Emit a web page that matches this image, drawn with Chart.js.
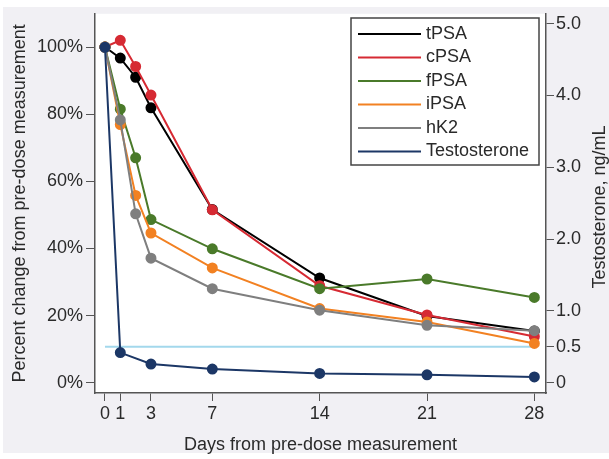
<!DOCTYPE html>
<html>
<head>
<meta charset="utf-8">
<script src="https://cdn.jsdelivr.net/npm/chart.js@4"></script>
<style>
  body { margin: 0; background: #fff; }
  #c { display: block; }
</style>
</head>
<body>
<canvas id="c" width="609" height="459"></canvas>
<script>
// data
const days = [0, 1, 2, 3, 7, 14, 21, 28];
const tPSA = [100, 96.7, 91.0, 81.9, 51.6, 31.2, 19.9, 15.4];
const cPSA = [100, 102.0, 94.2, 85.7, 51.5, 28.9, 20.2, 13.8];
const fPSA = [100, 81.5, 67.0, 48.6, 39.9, 28.0, 30.9, 25.4];
const iPSA = [100, 76.9, 55.8, 44.6, 34.2, 22.1, 18.1, 11.7];
const hK2 = [100, 78.3, 50.3, 37.1, 28.0, 21.6, 17.1, 15.5];
const testoDays = [0, 1, 3, 7, 14, 21, 28];
const testosterone = [4.67, 0.42, 0.26, 0.19, 0.13, 0.11, 0.08]; // ng/mL
const castrateLevel = 0.5;

const xTicks = [0, 1, 3, 7, 14, 21, 28];
const pctTicks = [0, 20, 40, 60, 80, 100];
const testoTicks = [0, 0.5, 1, 2, 3, 4, 5];

// left axis range, right axis follows it (100% = baseline testosterone)
const pctMin = -3.06, pctMax = 109.9;
const testoPerPct = 4.674 / 100;

const FONT = "'Liberation Sans', Arial, sans-serif";
const TXT = '#2a2a2a';
const AX = '#555';

function pts(xs, ys) {
    return xs.map((x, i) => ({ x: x, y: ys[i] }));
}

const series = [
    { label: 'tPSA', data: tPSA, color: '#000000', order: 5 },
    { label: 'cPSA', data: cPSA, color: '#d62a33', order: 4 },
    { label: 'fPSA', data: fPSA, color: '#4a7a2a', order: 3 },
    { label: 'iPSA', data: iPSA, color: '#f28122', order: 2 },
    { label: 'hK2', data: hK2, color: '#7f7f7f', order: 1 },
];

const datasets = series.map(s => ({
    label: s.label,
    data: pts(days, s.data),
    borderColor: s.color,
    backgroundColor: s.color,
    pointBackgroundColor: s.color,
    pointBorderColor: s.color,
    borderWidth: 2,
    pointRadius: 4.5,
    order: s.order,
    yAxisID: 'y',
    inLegend: true
}));
datasets.push({
    label: 'Testosterone',
    data: pts(testoDays, testosterone),
    borderColor: '#1c3766',
    backgroundColor: '#1c3766',
    pointBackgroundColor: '#1c3766',
    pointBorderColor: '#1c3766',
    borderWidth: 2,
    pointRadius: 4.5,
    order: 0,
    yAxisID: 'y1',
    inLegend: true
});
datasets.push({
    label: 'castrate',
    data: pts([0, 28], [castrateLevel, castrateLevel]),
    borderColor: '#a3d8ec',
    borderWidth: 2,
    pointRadius: 0,
    order: 9,
    yAxisID: 'y1',
    inLegend: false
});

// page background + white plot area
const bgPlugin = {
    id: 'bg',
    beforeDraw(chart) {
        const ctx = chart.ctx, a = chart.chartArea;
        ctx.save();
        ctx.fillStyle = '#ffffff';
        ctx.fillRect(0, 0, chart.width, chart.height);
        ctx.fillStyle = '#f1f0f4';
        ctx.fillRect(3, 7, chart.width - 3, chart.height - 13);
        ctx.fillStyle = '#ffffff';
        ctx.fillRect(a.left, a.top, a.right - a.left, a.bottom - a.top);
        ctx.restore();
    }
};

// boxed legend inside the plot, top right; right axis title reading upwards
const legendPlugin = {
    id: 'boxLegend',
    afterDraw(chart) {
        const ctx = chart.ctx;
        const items = chart.data.datasets.filter(d => d.inLegend);
        const bx = 351, by = 18, bw = 188, bh = 147;
        ctx.save();
        ctx.fillStyle = '#ffffff';
        ctx.fillRect(bx, by, bw, bh);
        ctx.strokeStyle = '#444';
        ctx.lineWidth = 1.5;
        ctx.strokeRect(bx, by, bw, bh);
        ctx.font = '18px ' + FONT;
        ctx.textBaseline = 'middle';
        ctx.fillStyle = TXT;
        items.forEach((d, i) => {
            const y = 34 + i * 23.5;
            ctx.strokeStyle = d.borderColor;
            ctx.lineWidth = 2;
            ctx.beginPath();
            ctx.moveTo(358, y);
            ctx.lineTo(421, y);
            ctx.stroke();
            ctx.fillText(d.label, 426, y);
        });

        ctx.translate(600, 207);
        ctx.rotate(-Math.PI / 2);
        ctx.textAlign = 'center';
        ctx.fillText('Testosterone, ng/mL', 0, 0);
        ctx.restore();
    }
};

const tickFont = { family: FONT, size: 18 };
const titleFont = { family: FONT, size: 18, lineHeight: 1 };

new Chart(document.getElementById('c'), {
    type: 'line',
    data: { datasets: datasets },
    plugins: [bgPlugin, legendPlugin],
    options: {
        responsive: false,
        animation: false,
        layout: { padding: { top: 13, left: 0, right: 0, bottom: 0 } },
        plugins: { legend: { display: false }, tooltip: { enabled: false } },
        elements: { line: { tension: 0 } },
        scales: {
            x: {
                type: 'linear',
                min: -0.65,
                max: 28.76,
                afterBuildTicks: s => { s.ticks = xTicks.map(v => ({ value: v })); },
                afterFit: s => { s.height = 66; },
                ticks: { color: TXT, font: tickFont, padding: 2, autoSkip: false, maxRotation: 0,
                    callback: v => String(v) },
                grid: { drawOnChartArea: false, tickLength: 8, color: AX },
                border: { color: AX, width: 1.5 },
                title: { display: true, text: 'Days from pre-dose measurement', color: TXT,
                    font: titleFont, padding: { top: 0, bottom: 5 } }
            },
            y: {
                position: 'left',
                min: pctMin,
                max: pctMax,
                afterBuildTicks: s => { s.ticks = pctTicks.map(v => ({ value: v })); },
                afterFit: s => { s.width = 95; },
                ticks: { color: TXT, font: tickFont, padding: 3, callback: v => v + '%' },
                grid: { drawOnChartArea: false, tickLength: 9, color: AX },
                border: { color: AX, width: 1.5 },
                title: { display: true, text: 'Percent change from pre-dose measurement', color: TXT,
                    font: titleFont, padding: { top: 11, bottom: 0 } }
            },
            y1: {
                position: 'right',
                min: pctMin * testoPerPct,
                max: pctMax * testoPerPct,
                afterBuildTicks: s => { s.ticks = testoTicks.map(v => ({ value: v })); },
                afterFit: s => { s.width = 63; },
                ticks: { color: TXT, font: tickFont, padding: 2,
                    callback: v => v === 0 ? '0' : v.toFixed(1) },
                grid: { drawOnChartArea: false, tickLength: 8, color: AX },
                border: { color: AX, width: 1.5 },
                title: { display: false }
            }
        }
    }
});
</script>
</body>
</html>
